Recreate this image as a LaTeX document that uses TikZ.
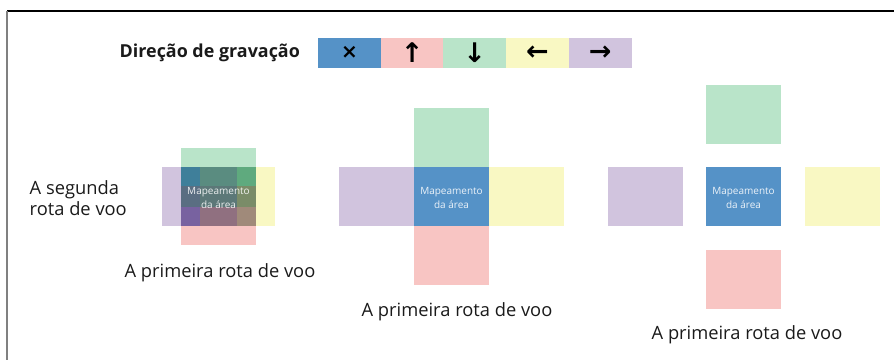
\documentclass[tikz,border=0pt]{standalone}
\usepackage{fontspec}
\setmainfont{Open Sans}
\newfontfamily\symfont{DejaVu Sans}
\usepackage{tikz}
\usetikzlibrary{positioning}

\definecolor{cblue}{HTML}{5592C7}
\definecolor{cpink}{HTML}{F8C5C3}
\definecolor{cgreen}{HTML}{B9E4C9}
\definecolor{cyellow}{HTML}{F9F8C3}
\definecolor{cpurple}{HTML}{D1C4DE}
\definecolor{ctext}{HTML}{1A1A1A}
% colours where the squares of the first plan overlap
\definecolor{mixAa}{HTML}{3F7F9A}
\definecolor{mixAb}{HTML}{5A8C80}
\definecolor{mixAc}{HTML}{5FAA7E}
\definecolor{mixBa}{HTML}{5A6E82}
\definecolor{mixBb}{HTML}{5C7878}
\definecolor{mixBc}{HTML}{7A8C68}
\definecolor{mixCa}{HTML}{7862A0}
\definecolor{mixCb}{HTML}{907080}
\definecolor{mixCc}{HTML}{A08A7A}

\tikzset{
    sq/.style={minimum width=75pt, minimum height=59pt, inner sep=0pt, outer sep=0pt},
    key/.style={minimum width=62.7pt, minimum height=30.5pt, inner sep=0pt, outer sep=0pt,
        font=\symfont\bfseries\fontsize{27}{28}\selectfont, text=black},
    lbl/.style={inner sep=0pt, text=ctext, font=\fontsize{18.3}{21}\selectfont},
    maptxt/.style={align=center, text=white, text opacity=0.88,
        font=\fontsize{10}{14}\selectfont}
}

\begin{document}
\begin{tikzpicture}[x=1pt, y=-1pt]
    \useasboundingbox (0,0) rectangle (894,360);
    \draw[line width=1.3pt, black] (7,11) -- (894,11);
    \draw[line width=1.8pt, gray] (7,11) -- (7,360);

    % legend
    \node[key, fill=cblue, font=\symfont\bfseries\fontsize{20}{22}\selectfont] (kx) at (349.4,52.8) {×};
    \node[key, fill=cpink, right=0pt of kx] (kup) {↑};
    \node[key, fill=cgreen, right=0pt of kup] (kdown) {↓};
    \node[key, fill=cyellow, right=0pt of kdown] (kleft) {←};
    \node[key, fill=cpurple, right=0pt of kleft] (kright) {→};
    \node[lbl, font=\bfseries\fontsize{17.9}{20}\selectfont, left=18pt of kx] (ktitle) {Direção de gravação};

    % first plan: overlapping routes
    \node[sq, fill=cblue] (map1) at (218.5,196.5) {};
    \node[sq, fill=cpurple, left=-56pt of map1] (right1) {};
    \node[sq, fill=cyellow, right=-56pt of map1] (left1) {};
    \node[sq, fill=cgreen, above=-40pt of map1] (down1) {};
    \node[sq, fill=cpink, below=-40pt of map1] (up1) {};
    \foreach \xa/\xb/\ya/\yb/\c in {
        map1.west/left1.west/map1.north/up1.north/mixAa,
        left1.west/right1.east/map1.north/up1.north/mixAb,
        right1.east/map1.east/map1.north/up1.north/mixAc,
        map1.west/left1.west/up1.north/down1.south/mixBa,
        left1.west/right1.east/up1.north/down1.south/mixBb,
        right1.east/map1.east/up1.north/down1.south/mixBc,
        map1.west/left1.west/down1.south/map1.south/mixCa,
        left1.west/right1.east/down1.south/map1.south/mixCb,
        right1.east/map1.east/down1.south/map1.south/mixCc}
        \fill[\c] (\xa |- \ya) rectangle (\xb |- \yb);
    \node[maptxt] (txt1) at ([yshift=-1.5pt]map1.center) {Mapeamento\\da área};
    \node[lbl, align=left, left=35pt of right1, yshift=-2pt] (seg) {A segunda\\rota de voo};
    \node[lbl, below=18pt of up1, xshift=1.5pt] (first1) {A primeira rota de voo};

    % second plan: routes touching
    \node[sq, fill=cblue] (map2) at (451.5,196.5) {};
    \node[sq, fill=cpurple, left=0pt of map2] (right2) {};
    \node[sq, fill=cyellow, right=0pt of map2] (left2) {};
    \node[sq, fill=cgreen, above=0pt of map2] (down2) {};
    \node[sq, fill=cpink, below=0pt of map2] (up2) {};
    \node[maptxt] (txt2) at ([yshift=-1.5pt]map2.center) {Mapeamento\\da área};
    \node[lbl, below=17pt of up2, xshift=5.5pt] (first2) {A primeira rota de voo};

    % third plan: routes apart
    \node[sq, fill=cblue] (map3) at (743.5,196.5) {};
    \node[sq, fill=cpurple, left=23.5pt of map3] (right3) {};
    \node[sq, fill=cyellow, right=23.5pt of map3] (left3) {};
    \node[sq, fill=cgreen, above=23.5pt of map3] (down3) {};
    \node[sq, fill=cpink, below=23.5pt of map3] (up3) {};
    \node[maptxt] (txt3) at ([yshift=-1.5pt]map3.center) {Mapeamento\\da área};
    \node[lbl, below=16.5pt of up3, xshift=3.5pt] (first3) {A primeira rota de voo};
\end{tikzpicture}
\end{document}
